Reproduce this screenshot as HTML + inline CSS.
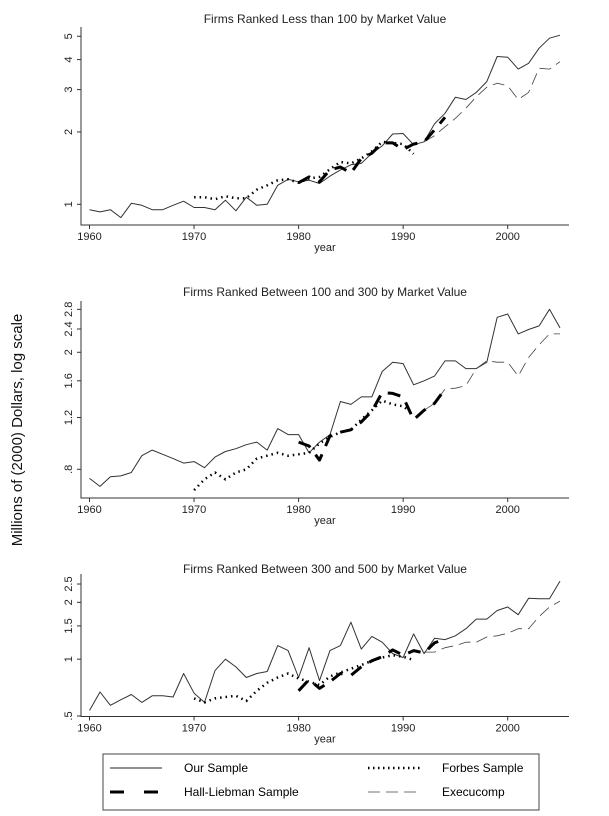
<!DOCTYPE html>
<html><head><meta charset="utf-8"><style>
body{margin:0;background:#fff}
svg{display:block;font-family:"Liberation Sans",Arial,sans-serif}
</style></head><body>
<svg id="c" width="609" height="816" viewBox="0 0 609 816">
<text x="22" y="430" transform="rotate(-90 22 430)" text-anchor="middle" font-size="15" fill="#111">Millions of (2000) Dollars, log scale</text>
<g>
<rect x="103" y="754" width="436" height="56" fill="#fff" stroke="#444" stroke-width="1"/>
<g><line x1="110" y1="768" x2="162" y2="768" stroke="#222" stroke-width="1"/><text x="184" y="772" font-size="12">Our Sample</text></g>
<g><line x1="368" y1="768" x2="420" y2="768" stroke="#000" stroke-width="2.5" stroke-dasharray="1.5 3.5"/><text x="442" y="772" font-size="12">Forbes Sample</text></g>
<g><line x1="110" y1="792" x2="162" y2="792" stroke="#000" stroke-width="3" stroke-dasharray="14 20"/><text x="184" y="796" font-size="12">Hall-Liebman Sample</text></g>
<g><line x1="368" y1="792" x2="420" y2="792" stroke="#444" stroke-width="0.8" stroke-dasharray="12 6"/><text x="442" y="796" font-size="12">Execucomp</text></g>
</g>
</svg>
<script>
const xTicks=[1960,1970,1980,1990,2000];
const p1Title="Firms Ranked Less than 100 by Market Value";
const p1Ticks=[1,2,3,4,5];
const p1TickLabels=["1","2","3","4","5"];
const p1Our=[0.95,0.93,0.95,0.88,1.01,0.99,0.95,0.95,0.99,1.03,0.97,0.97,0.95,1.04,0.94,1.07,0.99,1.0,1.2,1.27,1.24,1.26,1.22,1.31,1.39,1.46,1.48,1.63,1.75,1.96,1.97,1.77,1.82,2.16,2.39,2.79,2.73,2.92,3.24,4.12,4.09,3.65,3.86,4.46,4.91,5.05];
const p1Forbes=[1.07,1.07,1.05,1.08,1.06,1.06,1.15,1.2,1.26,1.27,1.23,1.28,1.30,1.40,1.50,1.48,1.55,1.66,1.82,1.80,1.78,1.62];
const p1HL=[1.23,1.30,1.24,1.39,1.43,1.35,1.55,1.63,1.80,1.80,1.69,1.78,1.82,2.04,2.30];
const p1Exec=[1.82,1.93,2.10,2.28,2.51,2.80,3.07,3.19,3.11,2.73,2.92,3.68,3.65,3.92];
const p2Title="Firms Ranked Between 100 and 300 by Market Value";
const p2Ticks=[0.8,1.2,1.6,2,2.4,2.8];
const p2TickLabels=[".8","1.2","1.6","2","2.4","2.8"];
const p2Our=[0.745,0.70,0.755,0.76,0.78,0.89,0.93,0.90,0.87,0.84,0.85,0.81,0.88,0.92,0.94,0.97,0.99,0.93,1.10,1.05,1.05,0.91,0.99,1.05,1.36,1.33,1.41,1.41,1.72,1.85,1.83,1.55,1.60,1.66,1.87,1.87,1.76,1.76,1.85,2.63,2.70,2.31,2.39,2.46,2.80,2.42];
const p2Forbes=[0.68,0.74,0.78,0.74,0.78,0.80,0.87,0.89,0.91,0.89,0.90,0.91,0.98,1.03,1.07,1.09,1.18,1.27,1.37,1.33,1.31,1.23];
const p2HL=[0.99,0.96,0.86,1.04,1.07,1.09,1.16,1.26,1.46,1.45,1.41,1.18,1.27,1.34,1.50];
const p2Exec=[1.27,1.34,1.50,1.51,1.54,1.76,1.87,1.85,1.85,1.66,1.92,2.12,2.31,2.31];
const p3Title="Firms Ranked Between 300 and 500 by Market Value";
const p3Ticks=[0.5,1,1.5,2,2.5];
const p3TickLabels=[".5","1","1.5","2","2.5"];
const p3Our=[0.535,0.67,0.57,0.61,0.65,0.59,0.64,0.64,0.63,0.84,0.66,0.59,0.87,1.0,0.91,0.80,0.84,0.86,1.18,1.11,0.80,1.15,0.77,1.11,1.18,1.57,1.13,1.32,1.23,1.07,1.02,1.36,1.07,1.29,1.27,1.33,1.45,1.63,1.63,1.81,1.89,1.72,2.10,2.09,2.09,2.59];
const p3Forbes=[0.62,0.59,0.62,0.63,0.64,0.60,0.68,0.75,0.80,0.84,0.79,0.76,0.73,0.81,0.85,0.89,0.93,0.98,1.02,1.05,1.03,0.99];
const p3HL=[0.68,0.78,0.70,0.76,0.84,0.82,0.91,0.98,1.03,1.12,1.05,1.11,1.08,1.22,1.28];
const p3Exec=[1.09,1.09,1.15,1.18,1.23,1.23,1.31,1.33,1.37,1.45,1.45,1.68,1.89,2.03];

const NS="http://www.w3.org/2000/svg";
const svg=document.getElementById('c');
function mk(tag,attrs,parent){const e=document.createElementNS(NS,tag);for(const k in attrs)e.setAttribute(k,attrs[k]);(parent||svg).appendChild(e);return e;}
const xScale=y=>89.5+(y-1960)*10.455;
const layouts=[
 {ref:1,refY:204.3,k:104.4,top:27,bottom:225,titleY:23},
 {ref:0.8,refY:469.3,k:127.7,top:301,bottom:498,titleY:296},
 {ref:0.5,refY:716,k:82,top:574,bottom:716.5,titleY:573}
];
const panels=[
 [p1Title,p1Ticks,p1TickLabels,p1Our,p1Forbes,p1HL,p1Exec],
 [p2Title,p2Ticks,p2TickLabels,p2Our,p2Forbes,p2HL,p2Exec],
 [p3Title,p3Ticks,p3TickLabels,p3Our,p3Forbes,p3HL,p3Exec]
];
panels.forEach((p,i)=>{
 const L=layouts[i];
 const yS=v=>L.refY-Math.log(v/L.ref)*L.k;
 const g=mk('g',{});
 
 
 const t=mk('text',{x:325,y:L.titleY,'text-anchor':'middle','font-size':'12',fill:'#222'},g);
 t.textContent=p[0];
 
 
 const ax=mk('path',{d:`M81,${L.top}V${L.bottom}H569`,fill:'none',stroke:'#333','stroke-width':1},g);
 
 
 p[1].forEach((v,j)=>{
  const y=yS(v);
  const tk=mk('line',{x1:77,x2:81,y1:y,y2:y,stroke:'#333'},g);
  
  
  const tl=mk('text',{x:72,y:y,transform:`rotate(-90 72 ${y})`,'text-anchor':'middle','font-size':'11',fill:'#222'},g);
  tl.textContent=p[2][j];
  
  
 });
 xTicks.forEach(yr=>{
  const x=xScale(yr);
  const tk=mk('line',{x1:x,x2:x,y1:L.bottom,y2:L.bottom+4,stroke:'#333'},g);
  
  
  const tl=mk('text',{x:x,y:L.bottom+15,'text-anchor':'middle','font-size':'11',fill:'#222'},g);
  tl.textContent=yr;
  
  
 });
 const xl=mk('text',{x:325,y:L.bottom+26,'text-anchor':'middle','font-size':'11',fill:'#222'},g);
 xl.textContent='year';
 
 
 const series=[
  [p[3],1960,{stroke:'#333','stroke-width':1},'our-sample-line'],
  [p[6],1992,{stroke:'#444','stroke-width':0.8,'stroke-dasharray':'12 6'},'execucomp-line'],
  [p[4],1970,{stroke:'#000','stroke-width':2.5,'stroke-dasharray':'1.5 4','stroke-linecap':'butt'},'forbes-line'],
  [p[5],1980,{stroke:'#000','stroke-width':3,'stroke-dasharray':'13 9'},'hall-liebman-line']
 ];
 series.forEach(s=>{
  const d=s[0].map((v,j)=>(j?'L':'M')+xScale(s[1]+j).toFixed(1)+','+yS(v).toFixed(1)).join('');
  const a=Object.assign({d:d,fill:'none','stroke-linejoin':'round'},s[2]);
  const pth=mk('path',a,g);
  
  
 });
});
</script>
</body></html>
